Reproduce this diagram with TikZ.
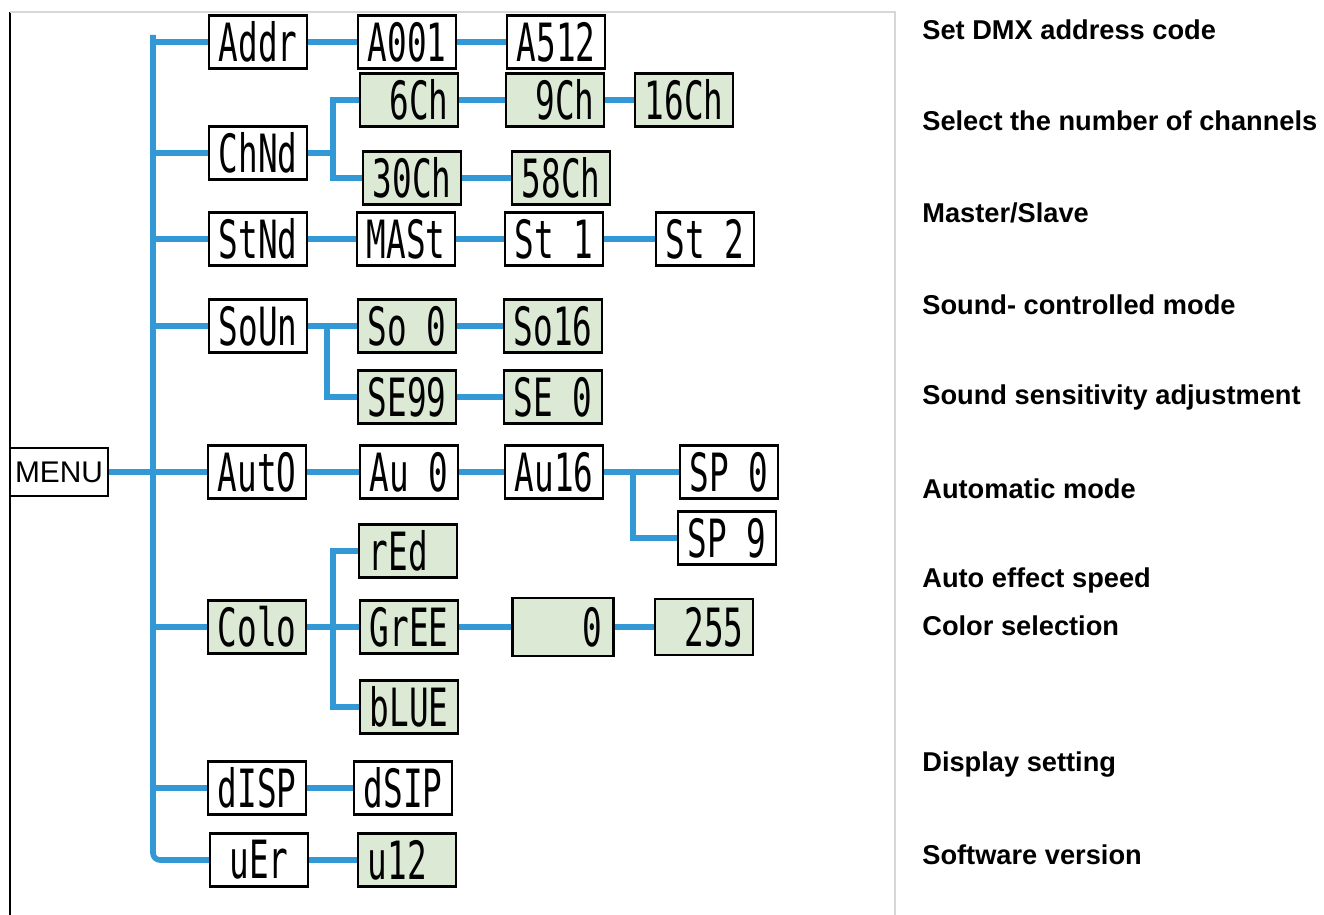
\documentclass[tikz,border=0pt]{standalone}
\usepackage{fontspec}
\setmainfont{Liberation Sans}
\newfontfamily\lcdfont[FakeStretch=0.62]{DejaVu Sans Mono}
\definecolor{busblue}{RGB}{51,153,214}
\definecolor{lcdgreen}{RGB}{220,233,213}
\definecolor{framegray}{RGB}{215,215,218}
\newcommand{\dgap}{\phantom{0}}
\tikzset{
  lcd/.style={draw=black,line width=1.2pt,fill=white,minimum width=1.96cm,minimum height=1.06cm,inner sep=1pt,font=\lcdfont\fontsize{30}{30}\selectfont},
  lcdg/.style={lcd,fill=lcdgreen},
  menubox/.style={draw=black,line width=1pt,fill=white,minimum width=1.96cm,minimum height=0.96cm,inner sep=1pt,font=\fontsize{17}{17}\selectfont},
  bus/.style={draw=busblue,line width=3.2pt},
  note/.style={anchor=west,inner sep=0pt,font=\bfseries\fontsize{15.5}{17}\selectfont}
}
\begin{document}
\begin{tikzpicture}[x=0.02cm,y=-0.02cm]
\useasboundingbox (0,0) rectangle (1324,915);
% frame
\draw[black,line width=1pt] (10,12) -- (10,915);
\draw[framegray,line width=1pt] (10,12) -- (895,12) -- (895,915);

\node[menubox] (menu) at (59,472) {MENU};

% first level
\node[lcd] (addr) at (258,42) {Addr};
\node[lcd] (chnd) at (258,153) {ChNd};
\node[lcd] (stnd) at (258,239) {StNd};
\node[lcd] (soun) at (258,326) {SoUn};
\node[lcd] (auto) at (257,472) {AutO};
\node[lcdg] (colo) at (257,627) {Colo};
\node[lcd] (disp) at (257,788) {dISP};
\node[lcd] (uer) at (259,860) {uEr};

% address
\node[lcd] (a001) at (407,42) {A001};
\node[lcd] (a512) at (556,42) {A512};
% channels
\node[lcdg] (ch6) at (409,100) {\dgap6Ch};
\node[lcdg] (ch9) at (555,100) {\dgap9Ch};
\node[lcdg] (ch16) at (684,100) {16Ch};
\node[lcdg] (ch30) at (412,178) {30Ch};
\node[lcdg] (ch58) at (561,178) {58Ch};
% master / slave
\node[lcd] (mast) at (406,239) {MASt};
\node[lcd] (st1) at (554,239) {St\dgap1};
\node[lcd] (st2) at (705,239) {St\dgap2};
% sound
\node[lcdg] (so0) at (407,326) {So\dgap0};
\node[lcdg] (so16) at (553,326) {So16};
\node[lcdg] (se99) at (407,397) {SE99};
\node[lcdg] (se0) at (553,397) {SE\dgap0};
% auto
\node[lcd] (au0) at (409,472) {Au\dgap0};
\node[lcd] (au16) at (554,472) {Au16};
\node[lcd] (sp0) at (729,472) {SP\dgap0};
\node[lcd] (sp9) at (727,538) {SP\dgap9};
% colour
\node[lcdg] (red) at (408,551) {rEd\dgap};
\node[lcdg] (gree) at (409,627) {GrEE};
\node[lcdg,minimum width=2.02cm,minimum height=1.16cm] (c0) at (563,627) {\dgap\dgap\dgap0};
\node[lcdg,minimum height=1.12cm] (c255) at (704,627) {\dgap255};
\node[lcdg] (blue) at (409,707) {bLUE};
% display, version
\node[lcd] (dsip) at (403,788) {dSIP};
\node[lcdg] (u12) at (407,860) {u12\dgap};

% trunk
\coordinate (top) at (153,35);
\draw[bus,rounded corners=4pt] (top) |- (uer.west);
\draw[bus] (menu) -- (top |- menu);
\foreach \n in {addr,chnd,stnd,soun,auto,colo,disp}
  \draw[bus] (top |- \n) -- (\n.west);

% branches
\draw[bus] (addr) -- (a001) -- (a512);
\coordinate (chj) at (333,153);
\draw[bus] (chnd) -- (chj);
\draw[bus] (ch6.west) -| (chj) |- (ch30.west);
\draw[bus] (ch6) -- (ch9);
\draw[bus] (ch9) -- (ch16);
\draw[bus] (ch30) -- (ch58);
\draw[bus] (stnd) -- (mast) -- (st1) -- (st2);
\coordinate (soj) at (327,326);
\draw[bus] (soun) -- (so0);
\draw[bus] (soj) |- (se99.west);
\draw[bus] (so0) -- (so16);
\draw[bus] (se99) -- (se0);
\draw[bus] (auto) -- (au0) -- (au16);
\coordinate (auj) at (633,472);
\draw[bus] (au16) -- (sp0);
\draw[bus] (auj) |- (sp9.west);
\coordinate (coj) at (333,627);
\draw[bus] (colo) -- (gree);
\draw[bus] (red.west) -| (coj) |- (blue.west);
\draw[bus] (gree) -- (c0) -- (c255);
\draw[bus] (disp) -- (dsip);
\draw[bus] (uer) -- (u12);

% descriptions
\node[note] (tAddr) at (922,30) {Set DMX address code};
\node[note] (tChnd) at (922,121) {Select the number of channels};
\node[note] (tStnd) at (922,213) {Master/Slave};
\node[note] (tSoun) at (922,305) {Sound- controlled mode};
\node[note] (tSens) at (922,397) {Sound sensitivity adjustment};
\node[note] (tAuto) at (922,489) {Automatic mode};
\node[note] (tSpeed) at (922,580) {Auto effect speed};
\node[note] (tColo) at (922,626) {Color selection};
\node[note] (tDisp) at (922,765) {Display setting};
\node[note] (tVer) at (922,855) {Software version};
\end{tikzpicture}
\end{document}
